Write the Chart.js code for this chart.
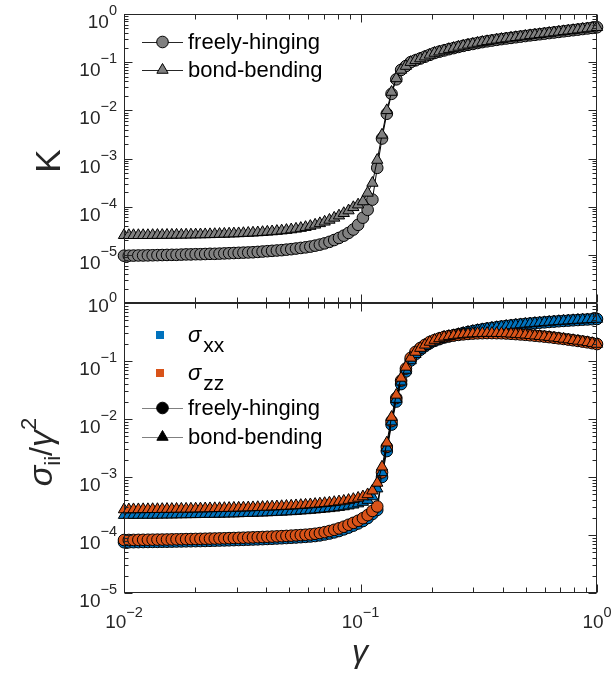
<!DOCTYPE html>
<html>
<head>
<meta charset="utf-8">
<script src="https://cdn.jsdelivr.net/npm/chart.js@4.4.0/dist/chart.umd.min.js"></script>
<style>
html, body { margin: 0; padding: 0; background: #fff; }
#wrap { position: relative; width: 614px; height: 683px; }
canvas { position: absolute; left: 0; }
</style>
</head>
<body>
<div id="wrap">
  <canvas id="topChart" width="614" height="330" style="top:0px"></canvas>
  <canvas id="botChart" width="614" height="403" style="top:280px"></canvas>
</div>
<script>
// shear strain values (shared x)
var gamma = [0.01000,0.01048,0.01097,0.01150,0.01205,0.01262,0.01322,0.01385,0.01451,0.01520,
  0.01593,0.01668,0.01748,0.01831,0.01918,0.02009,0.02105,0.02205,0.02310,0.02420,
  0.02535,0.02656,0.02783,0.02915,0.03054,0.03199,0.03352,0.03511,0.03678,0.03854,
  0.04037,0.04229,0.04431,0.04642,0.04863,0.05094,0.05337,0.05591,0.05857,0.06136,
  0.06428,0.06734,0.07055,0.07391,0.07743,0.08111,0.08498,0.08902,0.09326,0.09770,
  0.1024,0.1072,0.1123,0.1177,0.1233,0.1292,0.1353,0.1417,0.1485,0.1556,
  0.1630,0.1707,0.1789,0.1874,0.1963,0.2057,0.2154,0.2257,0.2364,0.2477,
  0.2595,0.2719,0.2848,0.2984,0.3126,0.3275,0.3430,0.3594,0.3765,0.3944,
  0.4132,0.4329,0.4535,0.4751,0.4977,0.5214,0.5462,0.5722,0.5995,0.6280,
  0.6579,0.6893,0.7221,0.7565,0.7925,0.8302,0.8697,0.9112,0.9545,1.000];

// K, top panel
var kFreely = [9.60e-6,9.60e-6,9.65e-6,9.70e-6,9.70e-6,9.75e-6,9.80e-6,9.85e-6,9.90e-6,9.95e-6,
  1.00e-5,1.00e-5,1.01e-5,1.02e-5,1.02e-5,1.03e-5,1.03e-5,1.04e-5,1.05e-5,1.05e-5,
  1.06e-5,1.07e-5,1.08e-5,1.09e-5,1.10e-5,1.11e-5,1.12e-5,1.13e-5,1.15e-5,1.17e-5,
  1.19e-5,1.21e-5,1.23e-5,1.25e-5,1.28e-5,1.31e-5,1.35e-5,1.39e-5,1.43e-5,1.48e-5,
  1.55e-5,1.63e-5,1.73e-5,1.86e-5,2.03e-5,2.24e-5,2.50e-5,2.85e-5,3.35e-5,4.20e-5,
  5.90e-5,8.60e-5,1.40e-4,6.40e-4,2.60e-3,8.50e-3,2.20e-2,4.40e-2,6.90e-2,8.30e-2,
  0.100,0.109,0.119,0.130,0.142,0.155,0.165,0.175,0.186,0.196,
  0.207,0.218,0.229,0.239,0.250,0.261,0.271,0.281,0.291,0.301,
  0.310,0.319,0.329,0.339,0.349,0.360,0.370,0.380,0.391,0.402,
  0.413,0.425,0.437,0.449,0.461,0.474,0.488,0.501,0.515,0.530];
var kBond = [2.55e-5,2.55e-5,2.55e-5,2.55e-5,2.55e-5,2.55e-5,2.56e-5,2.57e-5,2.57e-5,2.58e-5,
  2.59e-5,2.60e-5,2.60e-5,2.61e-5,2.62e-5,2.63e-5,2.64e-5,2.65e-5,2.66e-5,2.68e-5,
  2.70e-5,2.72e-5,2.74e-5,2.76e-5,2.78e-5,2.81e-5,2.84e-5,2.87e-5,2.91e-5,2.95e-5,
  3.00e-5,3.05e-5,3.11e-5,3.18e-5,3.26e-5,3.35e-5,3.46e-5,3.59e-5,3.75e-5,3.95e-5,
  4.20e-5,4.50e-5,4.85e-5,5.30e-5,5.85e-5,6.50e-5,7.30e-5,8.30e-5,9.70e-5,1.10e-4,
  1.28e-4,1.93e-4,3.10e-4,9.30e-4,3.10e-3,1.00e-2,2.40e-2,4.60e-2,6.90e-2,8.30e-2,
  0.100,0.109,0.119,0.130,0.142,0.155,0.165,0.175,0.186,0.196,
  0.207,0.218,0.229,0.239,0.250,0.261,0.271,0.281,0.291,0.301,
  0.310,0.319,0.329,0.339,0.349,0.360,0.370,0.380,0.391,0.402,
  0.413,0.425,0.437,0.449,0.461,0.474,0.488,0.501,0.515,0.530];

// sigma_ii / gamma^2, bottom panel
var sxxFreely = [7.50e-5,7.50e-5,7.52e-5,7.54e-5,7.56e-5,7.58e-5,7.60e-5,7.62e-5,7.64e-5,7.66e-5,
  7.69e-5,7.72e-5,7.75e-5,7.78e-5,7.81e-5,7.84e-5,7.87e-5,7.90e-5,7.94e-5,7.98e-5,
  8.02e-5,8.06e-5,8.10e-5,8.15e-5,8.20e-5,8.25e-5,8.30e-5,8.36e-5,8.42e-5,8.48e-5,
  8.55e-5,8.62e-5,8.70e-5,8.78e-5,8.87e-5,8.96e-5,9.06e-5,9.17e-5,9.29e-5,9.42e-5,
  9.60e-5,9.85e-5,1.02e-4,1.06e-4,1.11e-4,1.17e-4,1.25e-4,1.34e-4,1.45e-4,1.58e-4,
  1.74e-4,1.96e-4,2.30e-4,2.70e-4,1.00e-3,2.80e-3,8.00e-3,2.00e-2,4.00e-2,6.60e-2,
  0.102,0.131,0.156,0.180,0.203,0.222,0.238,0.254,0.266,0.277,
  0.290,0.303,0.316,0.328,0.340,0.351,0.362,0.372,0.382,0.392,
  0.401,0.410,0.419,0.427,0.435,0.443,0.450,0.457,0.464,0.471,
  0.478,0.485,0.491,0.497,0.503,0.509,0.515,0.520,0.525,0.530];
var szzFreely = [8.20e-5,8.20e-5,8.22e-5,8.24e-5,8.26e-5,8.28e-5,8.30e-5,8.32e-5,8.34e-5,8.36e-5,
  8.40e-5,8.43e-5,8.46e-5,8.49e-5,8.52e-5,8.55e-5,8.58e-5,8.62e-5,8.66e-5,8.70e-5,
  8.74e-5,8.78e-5,8.83e-5,8.88e-5,8.93e-5,8.98e-5,9.04e-5,9.10e-5,9.16e-5,9.23e-5,
  9.30e-5,9.38e-5,9.46e-5,9.55e-5,9.64e-5,9.74e-5,9.85e-5,9.97e-5,1.01e-4,1.025e-4,
  1.05e-4,1.08e-4,1.12e-4,1.17e-4,1.23e-4,1.30e-4,1.39e-4,1.50e-4,1.62e-4,1.76e-4,
  1.95e-4,2.20e-4,2.60e-4,3.10e-4,1.20e-3,3.30e-3,9.20e-3,2.30e-2,4.60e-2,7.40e-2,
  0.113,0.143,0.167,0.190,0.213,0.230,0.245,0.260,0.268,0.276,
  0.282,0.288,0.293,0.297,0.300,0.302,0.303,0.303,0.302,0.301,
  0.298,0.295,0.291,0.287,0.283,0.278,0.273,0.268,0.263,0.258,
  0.252,0.246,0.240,0.234,0.228,0.222,0.216,0.210,0.203,0.196];
var sxxBond = [2.20e-4,2.20e-4,2.21e-4,2.21e-4,2.22e-4,2.22e-4,2.22e-4,2.23e-4,2.23e-4,2.24e-4,
  2.24e-4,2.25e-4,2.26e-4,2.26e-4,2.27e-4,2.27e-4,2.28e-4,2.29e-4,2.30e-4,2.30e-4,
  2.31e-4,2.32e-4,2.33e-4,2.34e-4,2.35e-4,2.37e-4,2.38e-4,2.39e-4,2.41e-4,2.42e-4,
  2.44e-4,2.46e-4,2.48e-4,2.50e-4,2.53e-4,2.55e-4,2.58e-4,2.62e-4,2.65e-4,2.69e-4,
  2.73e-4,2.78e-4,2.83e-4,2.88e-4,2.94e-4,3.02e-4,3.10e-4,3.20e-4,3.32e-4,3.48e-4,
  3.70e-4,4.00e-4,4.60e-4,6.30e-4,1.20e-3,3.20e-3,9.00e-3,2.20e-2,4.40e-2,7.00e-2,
  0.102,0.131,0.156,0.180,0.203,0.222,0.238,0.254,0.266,0.277,
  0.290,0.303,0.316,0.328,0.340,0.351,0.362,0.372,0.382,0.392,
  0.401,0.410,0.419,0.427,0.435,0.443,0.450,0.457,0.464,0.471,
  0.478,0.485,0.491,0.497,0.503,0.509,0.515,0.520,0.525,0.530];
var szzBond = [2.75e-4,2.75e-4,2.76e-4,2.76e-4,2.77e-4,2.77e-4,2.78e-4,2.78e-4,2.79e-4,2.80e-4,
  2.80e-4,2.81e-4,2.82e-4,2.82e-4,2.83e-4,2.84e-4,2.85e-4,2.86e-4,2.87e-4,2.88e-4,
  2.89e-4,2.90e-4,2.91e-4,2.93e-4,2.94e-4,2.96e-4,2.97e-4,2.99e-4,3.01e-4,3.03e-4,
  3.05e-4,3.08e-4,3.10e-4,3.13e-4,3.16e-4,3.19e-4,3.23e-4,3.27e-4,3.31e-4,3.36e-4,
  3.41e-4,3.47e-4,3.53e-4,3.60e-4,3.68e-4,3.77e-4,3.87e-4,4.00e-4,4.15e-4,4.35e-4,
  4.60e-4,5.00e-4,5.80e-4,7.90e-4,1.50e-3,3.90e-3,1.08e-2,2.60e-2,5.10e-2,7.90e-2,
  0.113,0.143,0.167,0.190,0.213,0.230,0.245,0.260,0.268,0.276,
  0.282,0.288,0.293,0.297,0.300,0.302,0.303,0.303,0.302,0.301,
  0.298,0.295,0.291,0.287,0.283,0.278,0.273,0.268,0.263,0.258,
  0.252,0.246,0.240,0.234,0.228,0.222,0.216,0.210,0.203,0.196];

var topExps = [0, -1, -2, -3, -4, -5];
var botExps = [0, -1, -2, -3, -4, -5];
var xExps = [-2, -1, 0];

var blue = '#0072BD';
var orange = '#D95319';
var grey = '#808080';
var axisColor = '#262626';
var sans = '"Liberation Sans", Arial, Helvetica, sans-serif';

function pts(ys) {
  return gamma.map(function (g, i) { return { x: g, y: ys[i] }; });
}

function series(ys, style, fill) {
  return {
    data: pts(ys),
    borderColor: '#000',
    borderWidth: 1,
    tension: 0,
    pointStyle: style,
    pointRadius: style === 'triangle' ? 6.5 : 5.8,
    pointBackgroundColor: fill,
    pointBorderColor: '#000',
    pointBorderWidth: 1,
    clip: false
  };
}

// marker for the hand made legends
function marker(ctx, style, x, y, fill) {
  ctx.beginPath();
  if (style === 'circle') {
    ctx.arc(x, y, 5.8, 0, Math.PI * 2);
  } else {
    var r = 6.5;
    ctx.moveTo(x, y - r);
    ctx.lineTo(x + r * 0.866, y + r / 2);
    ctx.lineTo(x - r * 0.866, y + r / 2);
    ctx.closePath();
  }
  ctx.fillStyle = fill;
  ctx.fill();
  ctx.lineWidth = 1;
  ctx.strokeStyle = '#000';
  ctx.stroke();
}

function legendRow(ctx, y, lineColor, style, fill, text) {
  ctx.strokeStyle = lineColor;
  ctx.lineWidth = 1;
  ctx.beginPath();
  ctx.moveTo(142, y + 0.5);
  ctx.lineTo(183, y + 0.5);
  ctx.stroke();
  marker(ctx, style, 162.5, y, fill);
  ctx.fillStyle = '#000';
  ctx.font = '22px ' + sans;
  ctx.textAlign = 'left';
  ctx.textBaseline = 'alphabetic';
  ctx.fillText(text, 188, y + 7);
}

// "10" with a raised exponent
function powLabel(ctx, exp, x, y, align, supUp) {
  var base = '10', sup = String(exp).replace('-', '\u2212');
  ctx.font = '19px ' + sans;
  var wb = ctx.measureText(base).width;
  ctx.font = '14.5px ' + sans;
  var ws = ctx.measureText(sup).width;
  var x0 = align === 'right' ? x - wb - ws : x - (wb + ws) / 2;
  ctx.textAlign = 'left';
  ctx.textBaseline = 'alphabetic';
  ctx.fillStyle = axisColor;
  ctx.font = '19px ' + sans;
  ctx.fillText(base, x0, y);
  ctx.font = '14.5px ' + sans;
  ctx.fillText(sup, x0 + wb, y - supUp);
}

function logTicks(min, max) {
  var out = [];
  for (var e = Math.round(Math.log10(min)); e < Math.round(Math.log10(max)); e++) {
    for (var m = 1; m < 10; m++) out.push({ v: m * Math.pow(10, e), major: m === 1 });
  }
  out.push({ v: max, major: true });
  return out;
}

function drawFrame(chart, opt) {
  var ctx = chart.ctx, a = chart.chartArea;
  var xs = chart.scales.x, ys = chart.scales.y;
  var L = Math.round(a.left) + 0.5, R = Math.round(a.right) - 0.5;
  var T = Math.round(a.top) + 0.5, B = Math.round(a.bottom) - 0.5;
  ctx.save();
  ctx.strokeStyle = axisColor;
  ctx.lineWidth = 1;
  ctx.strokeRect(L, T, R - L, B - T);
  ctx.beginPath();
  logTicks(0.01, 1).forEach(function (t) {
    var px = Math.round(xs.getPixelForValue(t.v)) + 0.5;
    var len = t.major ? 8 : 5;
    ctx.moveTo(px, B); ctx.lineTo(px, B - len);
    ctx.moveTo(px, T); ctx.lineTo(px, T + len);
  });
  logTicks(opt.yMin, 1).forEach(function (t) {
    var py = Math.round(ys.getPixelForValue(t.v)) + 0.5;
    var len = t.major ? 8 : 4;
    ctx.moveTo(L, py); ctx.lineTo(L + len, py);
    ctx.moveTo(R, py); ctx.lineTo(R - len, py);
  });
  ctx.stroke();

  opt.yExps.forEach(function (e) {
    var py = ys.getPixelForValue(Math.pow(10, e));
    // the label sitting on the panel seam is raised a little
    var seam = opt.seamTop && e === 0;
    powLabel(ctx, e, a.left - 7, py + (seam ? 9 : 14), 'right', seam ? 10 : 13);
  });
  if (opt.xLabels) {
    xExps.forEach(function (e) {
      var px = xs.getPixelForValue(Math.pow(10, e));
      powLabel(ctx, e, px, a.bottom + 35, 'center', 11);
    });
  }
  opt.extra(ctx, a);
  ctx.restore();
}

function makeChart(id, datasets, opt) {
  return new Chart(document.getElementById(id), {
    type: 'line',
    data: { datasets: datasets },
    options: {
      responsive: false,
      animation: false,
      events: [],
      layout: { padding: opt.padding },
      plugins: { legend: { display: false }, tooltip: { enabled: false } },
      scales: {
        x: { type: 'logarithmic', min: 0.01, max: 1, display: false },
        y: { type: 'logarithmic', min: opt.yMin, max: 1, display: false }
      }
    },
    plugins: [{
      id: 'frame',
      afterDraw: function (chart) { drawFrame(chart, opt); }
    }]
  });
}

// top panel: K (first dataset is drawn on top)
makeChart('topChart', [
  series(kBond, 'triangle', grey),
  series(kFreely, 'circle', grey)
], {
  yMin: 1e-6,
  yExps: topExps,
  xLabels: false,
  seamTop: false,
  padding: { left: 124, right: 17, top: 14, bottom: 27 },
  extra: function (ctx) {
    legendRow(ctx, 42, axisColor, 'circle', grey, 'freely-hinging');
    legendRow(ctx, 70, axisColor, 'triangle', grey, 'bond-bending');
    ctx.save();
    ctx.translate(50, 161);
    ctx.rotate(-Math.PI / 2);
    ctx.fillStyle = axisColor;
    ctx.font = '35px ' + sans;
    ctx.textAlign = 'center';
    ctx.textBaseline = 'middle';
    ctx.fillText('K', 0, 0);
    ctx.restore();
  }
});

// bottom panel: sigma_ii / gamma^2
makeChart('botChart', [
  series(szzBond, 'triangle', orange),
  series(sxxBond, 'triangle', blue),
  series(szzFreely, 'circle', orange),
  series(sxxFreely, 'circle', blue)
], {
  yMin: 1e-5,
  yExps: botExps,
  xLabels: true,
  seamTop: true,
  padding: { left: 124, right: 17, top: 23, bottom: 90 },
  extra: function (ctx) {
    // sigma legend entries
    [[55, blue, 'xx'], [93, orange, 'zz']].forEach(function (r) {
      ctx.fillStyle = r[1];
      ctx.fillRect(156, r[0] - 4, 8, 8);
      ctx.fillStyle = '#000';
      ctx.textAlign = 'left';
      ctx.textBaseline = 'alphabetic';
      ctx.font = 'italic 22px ' + sans;
      ctx.fillText('σ', 188, r[0] + 7);
      var w = ctx.measureText('σ').width;
      ctx.font = '21px ' + sans;
      ctx.fillText(r[2], 188 + w + 2, r[0] + 17);
    });
    legendRow(ctx, 128, grey, 'circle', '#000', 'freely-hinging');
    legendRow(ctx, 157, grey, 'triangle', '#000', 'bond-bending');

    // y title
    var parts = [
      { t: 'σ', f: 'italic 34px ' + sans, dy: 0 },
      { t: 'ii', f: '22px ' + sans, dy: 8 },
      { t: '/', f: '32px ' + sans, dy: 0 },
      { t: 'γ', f: 'italic 34px ' + sans, dy: 0 },
      { t: '2', f: '22px ' + sans, dy: -16 }
    ];
    var total = 0;
    parts.forEach(function (p) { ctx.font = p.f; p.w = ctx.measureText(p.t).width; total += p.w; });
    ctx.save();
    ctx.translate(52, 172);
    ctx.rotate(-Math.PI / 2);
    ctx.fillStyle = axisColor;
    ctx.textAlign = 'left';
    ctx.textBaseline = 'alphabetic';
    var x = -total / 2;
    parts.forEach(function (p) { ctx.font = p.f; ctx.fillText(p.t, x, p.dy); x += p.w; });
    ctx.restore();

    // x title
    ctx.fillStyle = axisColor;
    ctx.font = 'italic 32px ' + sans;
    ctx.textAlign = 'center';
    ctx.fillText('γ', 360, 382);
  }
});
</script>
</body>
</html>
